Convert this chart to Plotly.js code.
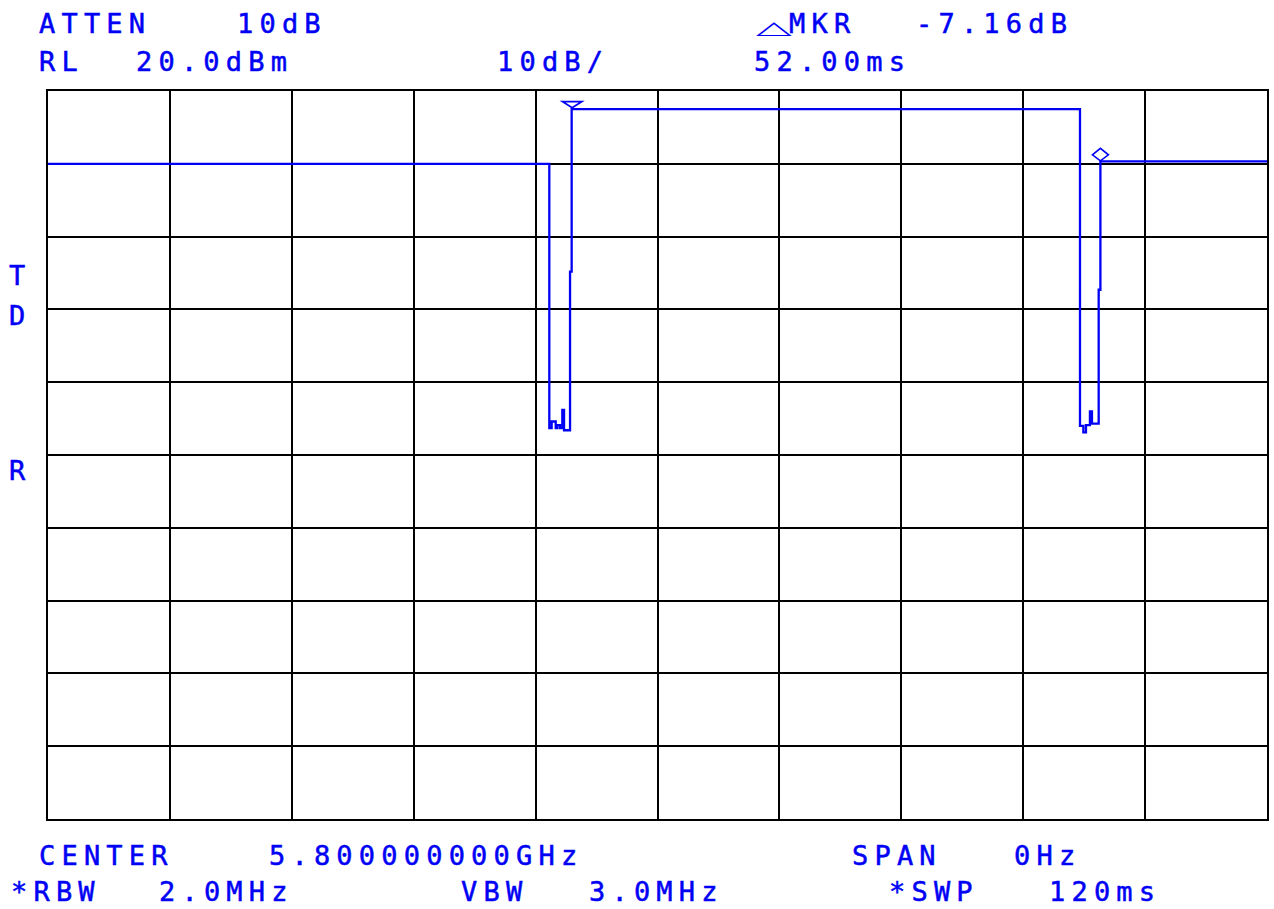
<!DOCTYPE html>
<html>
<head>
<meta charset="utf-8">
<script src="https://cdn.plot.ly/plotly-3.0.1.min.js"></script>
<style>
  html, body { margin: 0; padding: 0; background: #ffffff; }
  #screen { width: 1274px; height: 909px; }
  .annotation-text { letter-spacing: 6.2px; stroke: rgb(0,0,245); stroke-width: 0.5px; }
</style>
</head>
<body>
<div id="screen"></div>
<script>
// Zero-span sweep: received level (dBm) against time (ms), 120 ms sweep.
const sweepTime = [0, 49.35, 49.58, 49.98, 50.14, 50.40, 50.63, 50.80, 51.39, 51.55,
                   101.59, 101.92, 102.18, 102.57, 102.77, 103.43, 103.60, 120];
const sweepLevel = [10.0, -26.3, -25.4, -26.3, -25.9, -26.3, -23.8, -26.6, -4.8, 17.5,
                    -26.0, -26.9, -25.9, -24.0, -25.7, -7.3, 10.34, 10.34];

// Reference marker and delta marker (time ms, level dBm)
const markerTime = [51.6, 103.6];
const markerLevel = [17.5, 10.34];

// Instrument settings shown on screen
const refLevel = 20.0;      // dBm, top graticule line
const dbPerDiv = 10;
const divisions = 10;
const sweepMs = 120;
const centerLabel = '5.800000000GHz';
const spanLabel = '0Hz';
const rbwLabel = '2.0MHz';
const vbwLabel = '3.0MHz';
const attenLabel = '10dB';

const deltaLevel = (markerLevel[1] - markerLevel[0]).toFixed(2) + 'dB';
const deltaTime = (markerTime[1] - markerTime[0]).toFixed(2) + 'ms';

const BLUE = 'rgb(0,0,245)';
const MONO = '"DejaVu Sans Mono", "Liberation Mono", monospace';
const DELTA = '\u25B3';

// plot area in pixels
const L = 48, R = 1267, T = 91, B = 819;
const px = x => (x - L) / (R - L);
const py = y => (B - y) / (B - T);

function label(text, x, y, size, family) {
  return {
    text: text, xref: 'paper', yref: 'paper', x: px(x), y: py(y),
    xanchor: 'left', yanchor: 'middle', showarrow: false, borderpad: 0,
    font: { family: family || MONO, size: size || 27, color: BLUE }
  };
}

const annotations = [
  label('ATTEN', 38, 23), label(attenLabel, 236, 23),
  label(DELTA, 752, 21, 30, '"DejaVu Sans", sans-serif'),
  label('MKR', 788, 23), label(deltaLevel, 915, 23),
  label('RL', 38, 62), label(refLevel.toFixed(1) + 'dBm', 135, 62),
  label(dbPerDiv + 'dB/', 496, 62), label(deltaTime, 753, 62),
  label('T', 8, 275), label('D', 8, 315), label('R', 8, 471),
  label('CENTER', 38, 855), label(centerLabel, 268, 855),
  label('SPAN', 851, 855), label(spanLabel, 1013, 855),
  label('*RBW', 10, 891), label(rbwLabel, 158, 891),
  label('VBW', 460, 891), label(vbwLabel, 588, 891),
  label('*SWP', 888, 891), label(sweepMs + 'ms', 1048, 891)
];

// marker glyphs sized in pixels, anchored on marker data points
const shapes = [
  {
    type: 'path', xref: 'x', yref: 'y', xsizemode: 'pixel', ysizemode: 'pixel',
    xanchor: markerTime[0], yanchor: markerLevel[0],
    path: 'M-9.5,7.5 L9.5,7.5 L0,1.5 Z',
    line: { color: BLUE, width: 1.8 }
  },
  {
    type: 'path', xref: 'x', yref: 'y', xsizemode: 'pixel', ysizemode: 'pixel',
    xanchor: markerTime[1], yanchor: markerLevel[1],
    path: 'M-8,6.5 L0,13 L8,6.5 L0,0.5 Z',
    line: { color: BLUE, width: 1.6 }
  }
];

const trace = {
  x: sweepTime, y: sweepLevel, type: 'scatter', mode: 'lines',
  line: { color: BLUE, width: 2.3, shape: 'hv' },
  hoverinfo: 'skip'
};

const axisCommon = {
  showticklabels: false, ticks: '', zeroline: false,
  showgrid: true, gridcolor: '#000000', gridwidth: 2,
  showline: true, mirror: true, linecolor: '#000000', linewidth: 2,
  fixedrange: true
};

const layout = {
  width: 1274, height: 909,
  margin: { l: L, r: 1274 - R, t: T, b: 909 - B, pad: 0 },
  paper_bgcolor: '#ffffff', plot_bgcolor: '#ffffff',
  showlegend: false, hovermode: false,
  xaxis: Object.assign({ range: [0, sweepMs], dtick: sweepMs / divisions, tick0: 0 }, axisCommon),
  yaxis: Object.assign({ range: [refLevel - dbPerDiv * divisions, refLevel], dtick: dbPerDiv, tick0: 0 }, axisCommon),
  annotations: annotations,
  shapes: shapes
};

Plotly.newPlot('screen', [trace], layout, { staticPlot: true, displayModeBar: false }).then(() => {
  // the delta sign on this instrument is a wide, flat triangle
  document.querySelectorAll('.annotation-text').forEach(t => {
    if (t.textContent === DELTA) {
      t.style.transformBox = 'fill-box';
      t.style.transformOrigin = 'left bottom';
      t.style.transform = 'scale(1.55, 0.6)';
      t.style.letterSpacing = '0px';
      t.style.strokeWidth = '0px';
    }
  });
});
</script>
</body>
</html>
